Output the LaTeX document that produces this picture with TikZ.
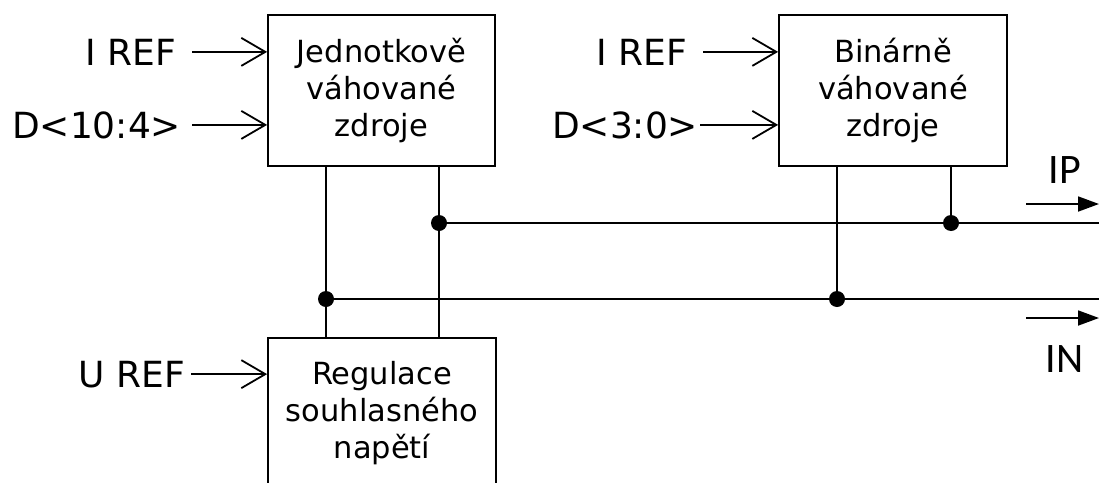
\documentclass[tikz,border=0pt]{standalone}
\usepackage{fontspec}
\setmainfont{DejaVu Sans}
\newfontfamily\ipfont{Carlito}
\usetikzlibrary{arrows.meta}
\begin{document}
\begin{tikzpicture}[x=1pt,y=-1pt,
  line width=1.8pt,
  blk/.style={draw, minimum width=227pt, minimum height=151pt, align=center, inner sep=0pt, font=\fontsize{30.5}{37}\selectfont},
  lbl/.style={inner sep=0pt, font=\fontsize{36}{40}\selectfont},
  outlbl/.style={inner sep=0pt, font=\ipfont\fontsize{42}{46}\selectfont},
  inarrow/.style={-{Straight Barb[length=24pt,width=28pt,line width=1.8pt]}},
  outarrow/.style={-{Triangle[length=21pt,width=15pt]}},
  junction/.style={circle, fill, inner sep=0pt, minimum size=16pt}]
\path[use as bounding box, clip] (0,0) rectangle (1099,482);

% blocks
\node[blk] (box1) at (381.5,90.5) {Jednotkově\\váhované\\zdroje};
\node[blk, minimum width=228pt] (box2) at (893,90.5) {Binárně\\váhované\\zdroje};
\node[blk, minimum width=228pt] (box3) at (382,413.5) {Regulace\\souhlasného\\napětí};

% input labels
\node[lbl, anchor=base east] (irefA) at (177,65) {I REF};
\node[lbl, anchor=base east] (dA) at (182,138) {D<10:4>};
\node[lbl, anchor=base east] (irefB) at (688,65) {I REF};
\node[lbl, anchor=base east] (dB) at (699,138) {D<3:0>};
\node[lbl, anchor=base east] (uref) at (186,387) {U REF};

\draw[inarrow] ([xshift=15pt]irefA.east) -- (irefA.east -| box1.west);
\draw[inarrow] ([xshift=10pt]dA.east) -- (dA.east -| box1.west);
\draw[inarrow] ([xshift=15pt]irefB.east) -- (irefB.east -| box2.west);
\draw[inarrow] ([xshift=1pt]dB.east) -- (dB.east -| box2.west);
\draw[inarrow] ([xshift=5pt]uref.east) -- (uref.east -| box3.west);

% junctions
\node[junction] (j1) at (439,223) {};
\node[junction] (j2) at (326,299) {};
\node[junction] (j3) at (951,223) {};
\node[junction] (j4) at (837,299) {};
\coordinate (ipend) at (1099,223);
\coordinate (inend) at (1099,299);

% buses
\draw (box1.south -| j2.center) -- (box3.north -| j2.center);
\draw (box1.south -| j1.center) -- (box3.north -| j1.center);
\draw (j1.center) -- (ipend);
\draw (j2.center) -- (inend);
\draw (box2.south -| j3.center) -- (j3.center);
\draw (box2.south -| j4.center) -- (j4.center);

% output arrows and labels
\coordinate (ipa) at (1026,204);
\coordinate (ipb) at (1099,204);
\coordinate (ina) at (1026,318);
\coordinate (inb) at (1099,318);
\draw[outarrow] (ipa) -- (ipb);
\draw[outarrow] (ina) -- (inb);
\node[outlbl, anchor=base west] (ip) at (1048,183) {IP};
\node[outlbl, anchor=base west] (in) at (1045,372) {IN};
\end{tikzpicture}
\end{document}
